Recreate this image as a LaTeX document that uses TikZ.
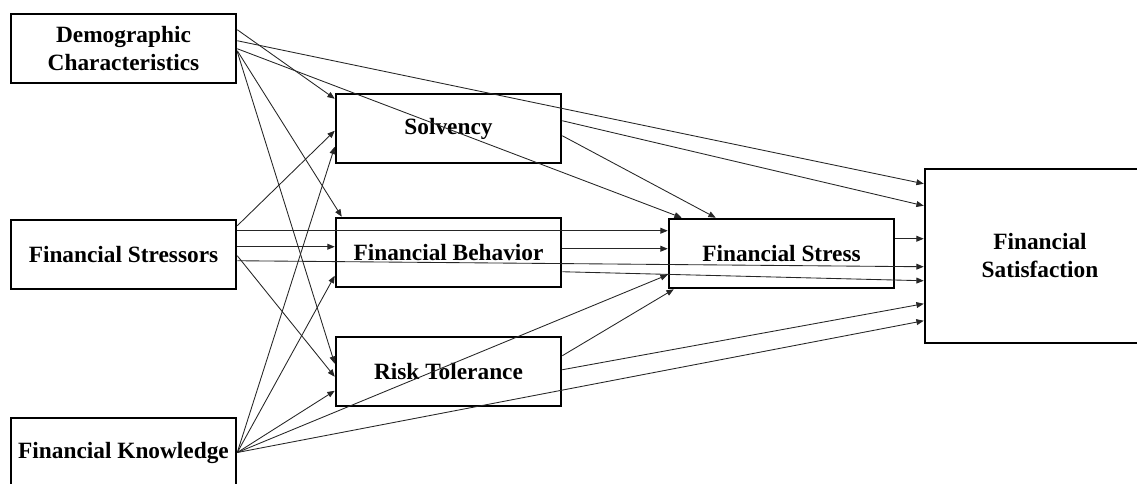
\documentclass[tikz,border=0pt]{standalone}
\usepackage{fontspec}
\setmainfont{Liberation Serif}
\usetikzlibrary{arrows.meta,calc}
\begin{document}
\begin{tikzpicture}[x=0.75pt,y=-0.75pt,
  box/.style={draw, line width=1.9pt, minimum width=168.75pt, minimum height=51.75pt,
    inner sep=0pt, align=center, font=\fontsize{17.5}{21}\selectfont\bfseries},
  link/.style={line width=0.65pt, draw=black!85, -{Triangle[length=5.5pt,width=4.4pt]}}]
\useasboundingbox (0,0) rectangle (1137,483);

% variables
\node[box] (demo)    at (123.5,48.5)  {Demographic\\Characteristics};
\node[box] (stress)  at (123.5,254.5) {Financial Stressors};
\node[box] (know)    at (123.5,452.5) {Financial Knowledge};
\node[box] (solv)    at (448.5,128.5) {\raisebox{-2.6pt}{Solvency}};
\node[box] (behav)   at (448.5,252.5) {Financial Behavior};
\node[box] (risk)    at (448.5,371.5) {Risk Tolerance};
\node[box] (fstress) at (781.5,253.5) {\raisebox{-2.6pt}{Financial Stress}};
\node[box, minimum width=172.5pt, minimum height=130.5pt] (fsat) at (1040,256) {Financial\\Satisfaction};

% paths from demographic characteristics
\draw[link] ($(demo.north east)+(0,17)$) -- ($(solv.north west)+(0,6)$);
\draw[link] ($(demo.north east)+(0,28)$) -- ($(fsat.north west)+(0,16)$);
\draw[link] ($(demo.north east)+(0,36)$) -- ($(fstress.north west)+(14,0)$);
\draw[link] ($(demo.north east)+(0,38)$) -- ($(behav.north west)+(7,0)$);
\draw[link] ($(demo.north east)+(0,39)$) -- ($(risk.north west)+(0,28)$);

% paths from financial stressors
\draw[link] ($(stress.north east)+(0,7)$)  -- ($(solv.north west)+(0,38)$);
\draw[link] ($(stress.north east)+(0,12)$) -- ($(fstress.north west)+(0,13)$);
\draw[link] ($(stress.north east)+(0,28)$) -- ($(behav.north west)+(0,30)$);
\draw[link] ($(stress.north east)+(0,42)$) -- ($(fsat.north west)+(0,99)$);
\draw[link] ($(stress.north east)+(0,37)$) -- ($(risk.north west)+(0,41)$);

% paths from financial knowledge
\draw[link] (know.east) -- ($(solv.north west)+(0,54)$);
\draw[link] (know.east) -- ($(behav.north west)+(0,59)$);
\draw[link] (know.east) -- ($(risk.north west)+(0,55)$);
\draw[link] (know.east) -- ($(fstress.north west)+(0,57)$);
\draw[link] (know.east) -- ($(fsat.north west)+(0,153)$);

% paths from the mediators
\draw[link] ($(solv.north east)+(0,28)$)  -- ($(fsat.north west)+(0,38)$);
\draw[link] ($(solv.north east)+(0,43)$)  -- ($(fstress.north west)+(48,0)$);
\draw[link] ($(behav.north east)+(0,32)$) -- ($(fstress.north west)+(0,31)$);
\draw[link] ($(behav.north east)+(0,55)$) -- ($(fsat.north west)+(0,113)$);
\draw[link] ($(risk.north east)+(0,20)$)  -- ($(fstress.south west)+(6,0)$);
\draw[link] ($(risk.north east)+(0,34)$)  -- ($(fsat.north west)+(0,136)$);
\draw[link] ($(fstress.north east)+(0,21)$) -- ($(fsat.north west)+(0,71)$);
\end{tikzpicture}
\end{document}
